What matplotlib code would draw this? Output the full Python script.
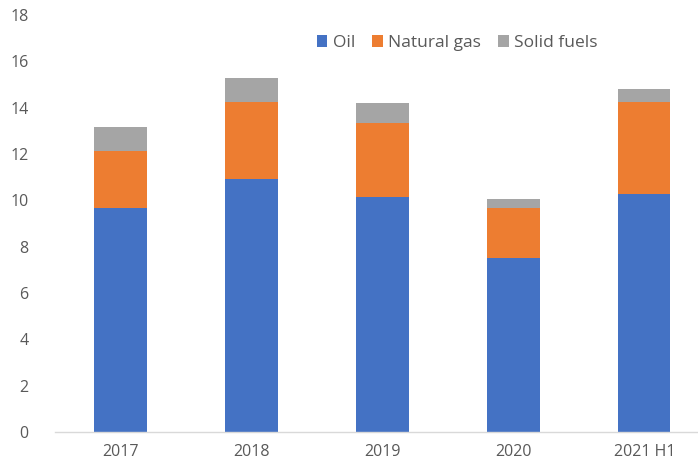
import matplotlib
matplotlib.use("Agg")
import matplotlib.pyplot as plt
import numpy as np

categories = ["2017", "2018", "2019", "2020", "2021 H1"]
oil = [9.67, 10.90, 10.14, 7.49, 10.27]
natural_gas = [2.48, 3.35, 3.21, 2.18, 3.98]
solid_fuels = [1.01, 1.03, 0.85, 0.39, 0.55]
series_names = ["Oil", "Natural gas", "Solid fuels"]
colors = ["#4472C4", "#ED7D31", "#A5A5A5"]

plt.rcParams['font.family'] = ['Open Sans', 'DejaVu Sans']

fig = plt.figure(figsize=(6.98, 4.71), dpi=100)
ax = fig.add_axes([55/698, 39/471, 1 - 55/698, (432-15)/471])

x = np.arange(len(categories))
w = 0.40
bottom = np.zeros(len(categories))
for vals, name, c in zip([oil, natural_gas, solid_fuels], series_names, colors):
    ax.bar(x, vals, w, bottom=bottom, color=c, label=name, zorder=2)
    bottom += np.array(vals)

ax.set_ylim(0, 18)
ax.set_yticks(range(0, 19, 2))
ax.set_xlim(-0.5, 4.41)
ax.set_xticks(x)
ax.set_xticklabels(categories)
for s in ["top", "right", "left"]:
    ax.spines[s].set_visible(False)
ax.spines["bottom"].set_color("#D9D9D9")
ax.spines["bottom"].set_linewidth(1.0)
ax.tick_params(axis="both", length=0, colors="#595959", labelsize=11.5)
ax.tick_params(axis="y", pad=19)
ax.tick_params(axis="x", pad=9)

leg = ax.legend(loc="upper left", bbox_to_anchor=((310-55)/643, 1 - (28-15)/417),
                ncol=3, frameon=False, fontsize=12.5, handlelength=0.6, handleheight=0.7,
                handletextpad=0.3, columnspacing=1.0, borderaxespad=0)
for t in leg.get_texts():
    t.set_color("#595959")

fig.savefig("out.png", dpi=100)
